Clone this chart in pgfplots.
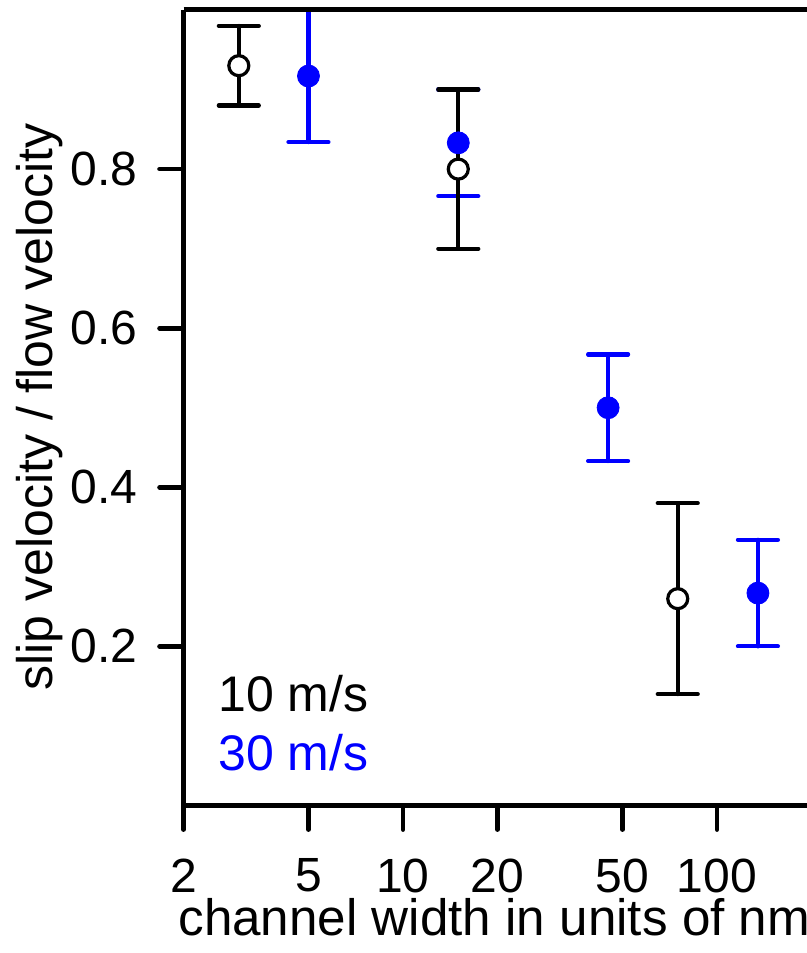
\documentclass[border=0pt]{standalone}
\usepackage{pgfplots}
\pgfplotsset{compat=1.18}
\usepackage{pgfplotstable}
\usepackage{fontspec}
\setmainfont{Liberation Sans}
\definecolor{pureblue}{RGB}{0,0,255}

% slip ratio vs channel width, two flow velocities
\pgfplotstableread{
x   y     e
3   0.930 0.050
15  0.800 0.100
75  0.260 0.120
}\slowdata
\pgfplotstableread{
x   y     e
5   0.917 0.083
15  0.833 0.067
45  0.500 0.067
135 0.267 0.067
}\fastdata

\begin{document}
\begin{tikzpicture}
\useasboundingbox (0,0) rectangle (403.5pt,476.5pt);
\clip (0,0) rectangle (403.5pt,476.5pt);
\begin{axis}[
  at={(91.75pt,73.75pt)}, anchor=south west,
  scale only axis, width=423.75pt, height=397.75pt,
  xmode=log, xmin=2, xmax=1000, ymin=0, ymax=1,
  axis line style={line width=2.5pt},
  every tick/.style={black, line width=2.4pt, line cap=round},
  tick align=outside, major tick length=12pt,
  xtick={2,5,10,20,50,100}, xticklabels={2,5,10,20,50,100},
  ytick={0.2,0.4,0.6,0.8}, yticklabels={0.2,0.4,0.6,0.8},
  minor tick num=0, xminorticks=false,
  axis x line*=bottom, axis y line*=left,
  ticklabel style={font=\fontsize{24}{28}\selectfont},
  xticklabel style={yshift=-11pt, text depth=0pt},
  yticklabel style={xshift=-7.5pt},
  /pgf/number format/assume math mode=true,
  clip=false,
]
\addplot[pureblue, only marks, mark=*, mark size=5.5pt,
  mark options={fill=pureblue, draw=pureblue},
  error bars/.cd, y dir=both, y explicit,
  error bar style={line width=2.1pt, line cap=round},
  error mark options={rotate=90, mark size=10pt, line width=2.1pt, line cap=round}]
  table[x=x, y=y, y error=e] {\fastdata};
\addplot[black, only marks, mark=*, mark size=5pt,
  mark options={fill=white, draw=black, line width=1.6pt},
  error bars/.cd, y dir=both, y explicit,
  error bar style={line width=2.1pt, line cap=round},
  error mark options={rotate=90, mark size=10pt, line width=2.1pt, line cap=round}]
  table[x=x, y=y, y error=e] {\slowdata};
\draw[line width=2.5pt] (axis cs:2,1) -- (axis cs:1000,1);
\end{axis}
\node[rotate=90, anchor=base, inner sep=0, font=\fontsize{25}{28}\selectfont] at (26pt,273pt) {slip velocity / flow velocity};
\node[anchor=base west, inner sep=0, font=\fontsize{25.6}{28}\selectfont] at (89pt,9pt) {channel width in units of nm};
\node[anchor=base west, inner sep=0, font=\fontsize{25}{28}\selectfont] at (109pt,120.5pt) {10 m/s};
\node[anchor=base west, inner sep=0, font=\fontsize{25}{28}\selectfont, text=pureblue] at (109pt,91pt) {30 m/s};
\end{tikzpicture}
\end{document}
